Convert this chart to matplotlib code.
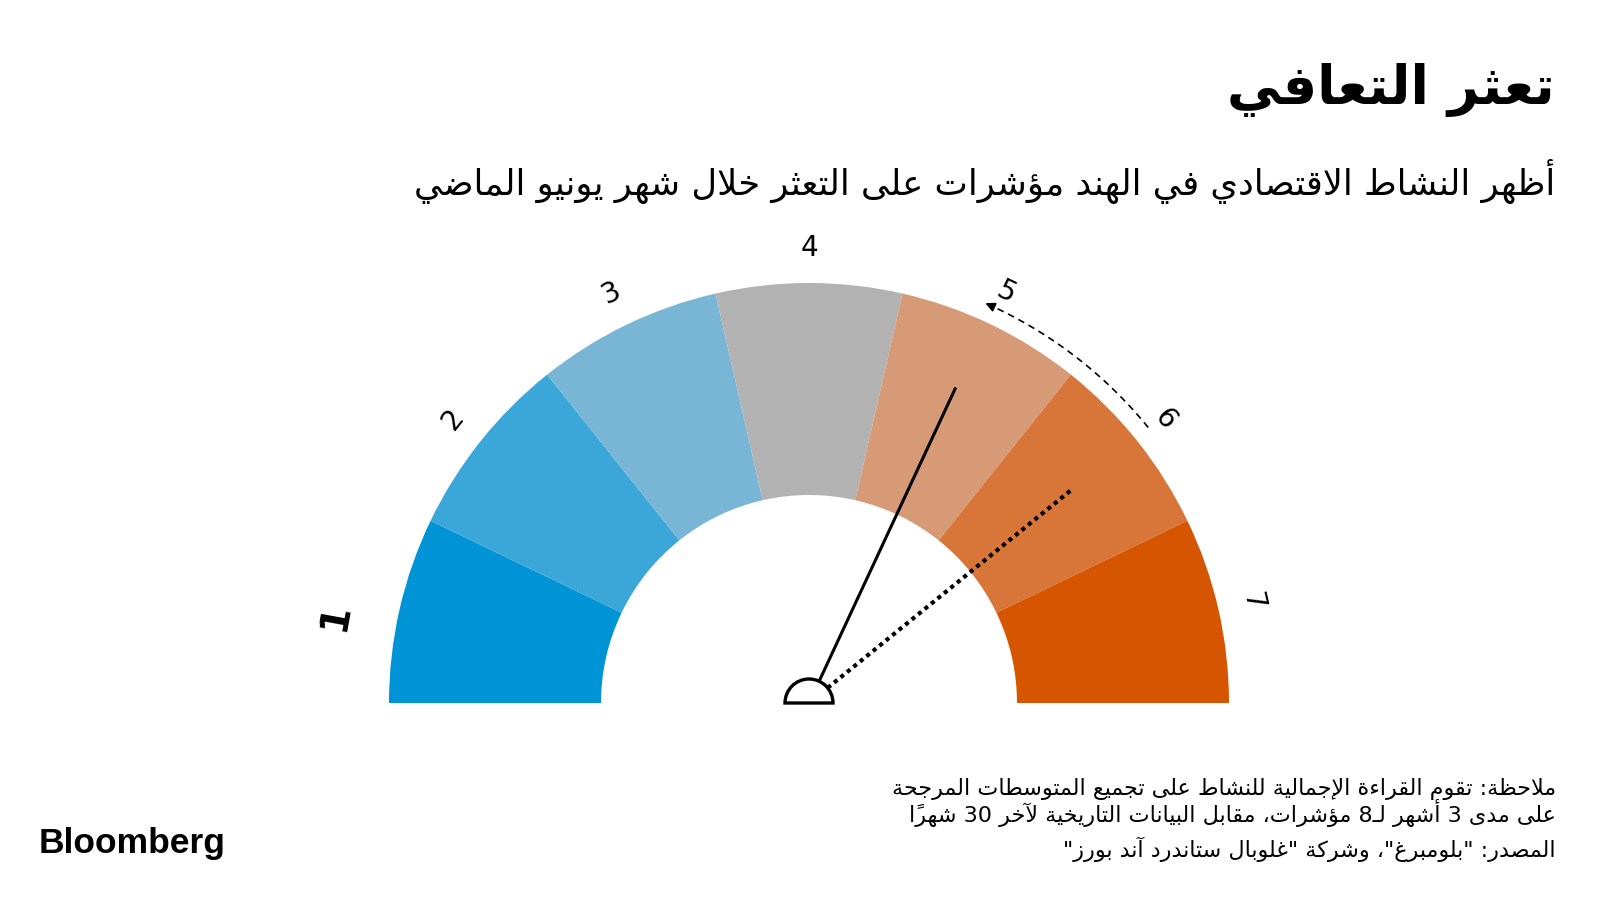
import numpy as np
import matplotlib
matplotlib.use("Agg")
import matplotlib.pyplot as plt
from matplotlib.patches import Wedge

# ---- datos ----
niveles = [1, 2, 3, 4, 5, 6, 7]
colores = ["#0093D6", "#3BA6D8", "#79B6D6", "#B2B2B2", "#D69A77", "#D8763A", "#D65500"]
lectura_actual = 4.97      # aguja solida
lectura_anterior = 5.98    # aguja punteada

titulo = "تعثر التعافي"
subtitulo = "أظهر النشاط الاقتصادي في الهند مؤشرات على التعثر خلال شهر يونيو الماضي"
nota1 = "ملاحظة: تقوم القراءة الإجمالية للنشاط على تجميع المتوسطات المرجحة"
nota2 = "على مدى 3 أشهر لـ8 مؤشرات، مقابل البيانات التاريخية لآخر 30 شهراً"
fuente = "المصدر: \"بلومبرغ\"، وشركة \"غلوبال ستاندرد آند بورز\""

# ---- forma del texto arabe (matplotlib no hace shaping) ----
_D = "ئبتثجحخسشصضطظعغفقكلمنهي"
_ORDEN = "ءآأؤإئابةتثجحخدذرزسشصضطظعغفقكلمنهوىي"
_MARCAS = set(chr(c) for c in range(0x064B, 0x0653)) | {"\u0670"}
_LAMALEF = {"آ": 0xFEF5, "أ": 0xFEF7, "إ": 0xFEF9, "ا": 0xFEFB}
_FORMAS = {}
codigo = 0xFE80
for ch in _ORDEN:
    n = 4 if ch in _D else (1 if ch == "ء" else 2)
    _FORMAS[ch] = [chr(codigo + k) for k in range(n)]
    codigo += n


def _dual(ch):
    return ch in _D or ch == "ـ"


def _prev(s, i):
    i -= 1
    while i >= 0 and s[i] in _MARCAS:
        i -= 1
    return i


def _next(s, i):
    i += 1
    while i < len(s) and s[i] in _MARCAS:
        i += 1
    return i


def shape(s):
    res = []
    i = 0
    while i < len(s):
        c = s[i]
        if c not in _FORMAS:
            res.append(c)
            i += 1
            continue
        p = _prev(s, i)
        q = _next(s, i)
        con_p = p >= 0 and _dual(s[p]) and c != "ء"
        if c == "ل" and q < len(s) and s[q] in _LAMALEF:
            res.append(chr(_LAMALEF[s[q]] + (1 if con_p else 0)))
            res.extend(s[i + 1:q])
            i = q + 1
            continue
        con_n = _dual(c) and q < len(s) and (s[q] in _FORMAS or s[q] == "ـ") and s[q] != "ء"
        idx = 3 if (con_p and con_n) else 1 if con_p else 2 if con_n else 0
        res.append(_FORMAS[c][idx])
        i += 1
    return "".join(res)


def ar(txt):
    s = shape(txt)
    grupos = []
    for ch in s:
        if ch in _MARCAS and grupos:
            grupos[-1] += ch
        else:
            grupos.append(ch)
    grupos.reverse()
    out, run = [], []
    for g in grupos:
        if g.isdigit():
            run.append(g)
        else:
            out.extend(reversed(run))
            run = []
            out.append(g)
    out.extend(reversed(run))
    return "".join(out)


# ---- figura ----
plt.rcParams["font.family"] = ["DejaVu Sans"]
fig = plt.figure(figsize=(16, 9), dpi=100)
ax = fig.add_axes([0, 0, 1, 1])
ax.set_xlim(0, 1600)
ax.set_ylim(0, 900)
ax.axis("off")

cx, cy = 809, 197
r_ext, r_int = 420, 208
paso = 180 / len(niveles)


def angulo(v):
    return 180 - (v - 0.5) * paso


for k, col in zip(niveles, colores):
    ax.add_patch(Wedge((cx, cy), r_ext, 180 - k * paso, 180 - (k - 1) * paso,
                       width=r_ext - r_int, facecolor=col, edgecolor="none"))
    a = np.radians(angulo(k - 0.1 if k == 1 else k))
    r_lab = 482 if k == 1 else 455
    ax.text(cx + r_lab * np.cos(a), cy + r_lab * np.sin(a), str(k),
            rotation=np.degrees(a) - 90, ha="center", va="center",
            fontsize=28 if k == 1 else 20, fontweight="bold" if k == 1 else "normal",
            color="black")

# agujas
r_hub = 24
for v, estilo, lw, largo in [(lectura_actual, "-", 2.2, 348),
                             (lectura_anterior, (0, (1, 1)), 3.0, 338)]:
    a = np.radians(angulo(v))
    ax.plot([cx + r_hub * np.cos(a), cx + largo * np.cos(a)],
            [cy + r_hub * np.sin(a), cy + largo * np.sin(a)],
            color="black", lw=lw, linestyle=estilo, solid_capstyle="butt", zorder=4)

ax.add_patch(Wedge((cx, cy), r_hub, 0, 180, facecolor="white", edgecolor="black",
                   lw=2.4, zorder=5))

# flecha curva de la lectura anterior a la actual
r_arc = 437
t = np.radians(np.linspace(angulo(lectura_anterior), angulo(lectura_actual) + 1.5, 60))
ax.plot(cx + r_arc * np.cos(t), cy + r_arc * np.sin(t), color="black", lw=1.2,
        linestyle=(0, (4, 3)))
ax.annotate("", xy=(cx + r_arc * np.cos(t[-1]), cy + r_arc * np.sin(t[-1])),
            xytext=(cx + r_arc * np.cos(t[-4]), cy + r_arc * np.sin(t[-4])),
            arrowprops=dict(arrowstyle="-|>", color="black", lw=1.2, mutation_scale=14))

# textos
ax.text(1555, 810, ar(titulo), ha="right", va="center", fontsize=39, fontweight="bold")
ax.text(1555, 719, ar(subtitulo), ha="right", va="center", fontsize=25.5)
ax.text(1556, 111, ar(nota1), ha="right", va="center", fontsize=16)
ax.text(1556, 87, ar(nota2), ha="right", va="center", fontsize=16)
ax.text(1556, 51, ar(fuente), ha="right", va="center", fontsize=16)
ax.text(39, 57, "Bloomberg", ha="left", va="center", fontsize=25.5, fontweight="bold",
        family=["Liberation Sans", "DejaVu Sans"])

fig.savefig("out.png", dpi=100, facecolor="white")
